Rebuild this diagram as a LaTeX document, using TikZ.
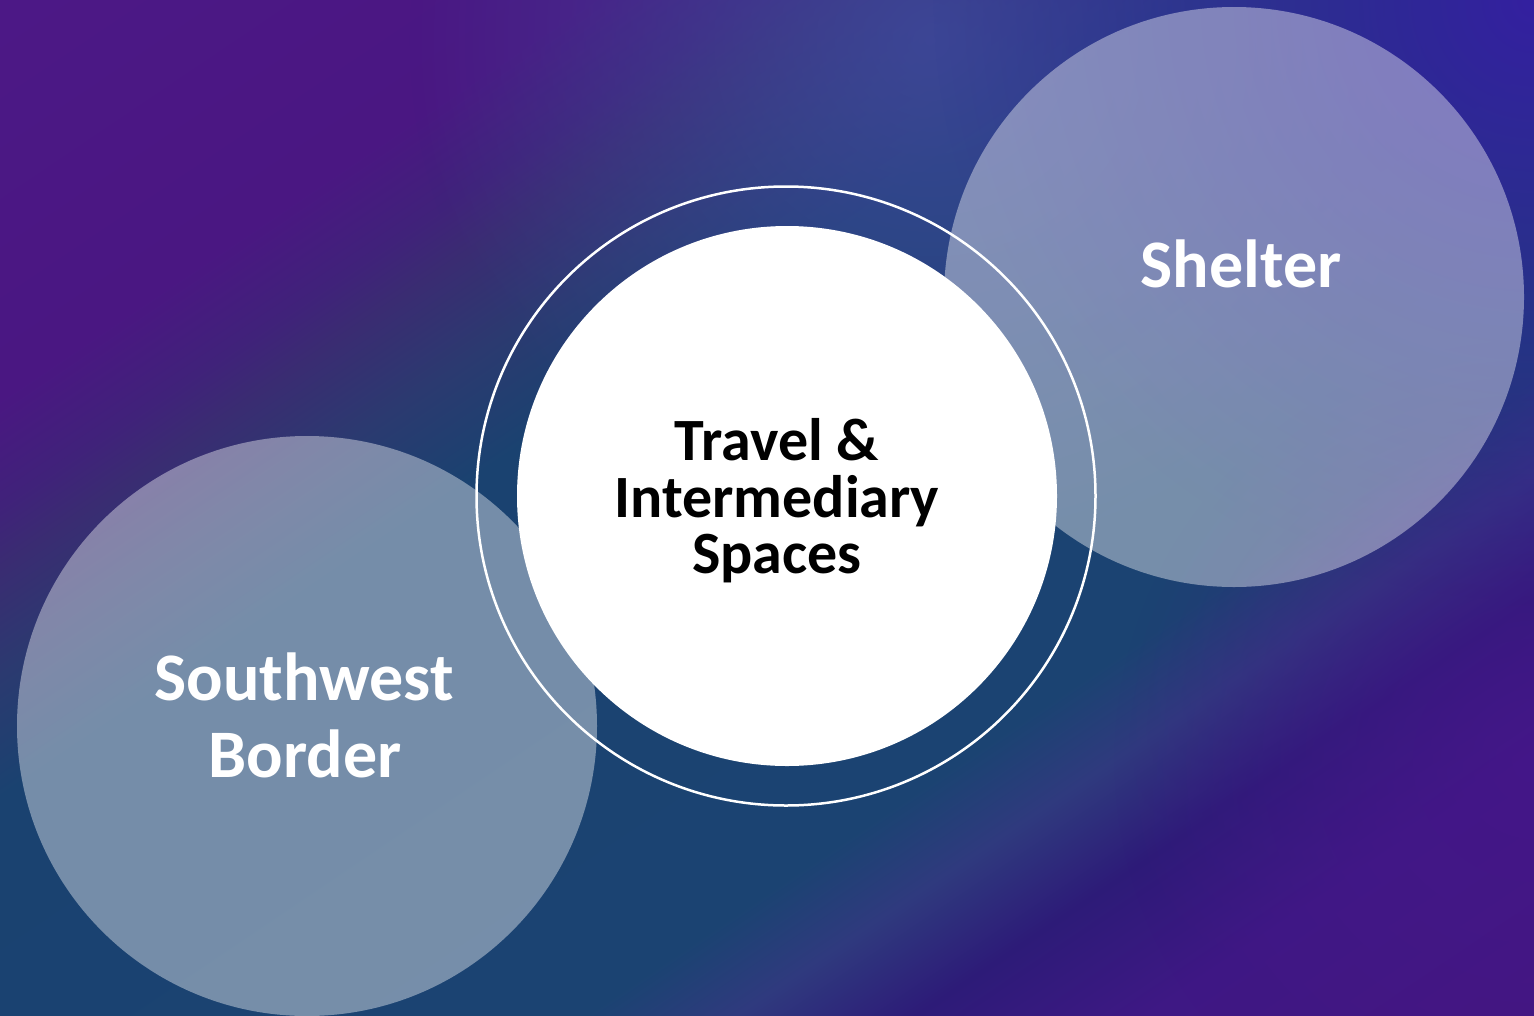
\documentclass[tikz,border=0pt]{standalone}
\usepackage{fontspec}
\setmainfont{Carlito}
\usetikzlibrary{fadings}
\definecolor{c0}{HTML}{4C1886}
\definecolor{c1}{HTML}{4A1782}
\definecolor{c2}{HTML}{40227A}
\definecolor{c3}{HTML}{3A2C72}
\definecolor{c4}{HTML}{2B3A70}
\definecolor{c5}{HTML}{1A4270}
\definecolor{c6}{HTML}{1B4372}
\definecolor{c7}{HTML}{2F3A7E}
\definecolor{c8}{HTML}{2D1B78}
\definecolor{c9}{HTML}{3E1884}
\definecolor{c10}{HTML}{44177F}
\definecolor{trviolet}{HTML}{3420A0}
\definecolor{topblue}{HTML}{3F489C}
\definecolor{rpurple}{HTML}{46168A}
\pgfdeclarehorizontalshading{bgshade}{2800bp}{color(0bp)=(c0); color(330bp)=(c1); color(420bp)=(c2); color(470bp)=(c3); color(560bp)=(c4); color(660bp)=(c5); color(1166bp)=(c6); color(1250bp)=(c7); color(1350bp)=(c8); color(1480bp)=(c9); color(1720bp)=(c10)}
\tikzfading[name=radfade, inner color=transparent!0, outer color=transparent!100]
\tikzset{
  glass/.style={circle, fill=white, fill opacity=0.4, draw=none, inner sep=0pt},
  whitetext/.style={text=white, font=\bfseries\fontsize{68}{77}\selectfont, inner sep=0pt, anchor=base},
  blacktext/.style={text=black, font=\bfseries\fontsize{60}{56}\selectfont, inner sep=0pt, anchor=base}
}
\begin{document}
\begin{tikzpicture}[x=1pt,y=-1pt]
\useasboundingbox (0,0) rectangle (1534,1015);
\begin{scope}
  \clip (0,0) rectangle (1534,1015);
  \node[rotate=-56, inner sep=0pt, outer sep=0pt] (bg) at (482,714) {\pgfuseshading{bgshade}};
  \fill[topblue, fill opacity=0.85, path fading=radfade] (930,40) circle (520);
  \fill[trviolet, path fading=radfade] (1534,0) circle (600);
  \fill[rpurple, fill opacity=0.7, path fading=radfade] (1534,760) circle (420);
\end{scope}
% outer ring
\node[circle, draw=white, line width=2.5pt, minimum size=619, inner sep=0pt] (ring) at (786,496) {};
% white disk
\node[circle, fill=white, minimum size=540, inner sep=0pt] (core) at (787,496) {};
% translucent circles
\node[glass, minimum size=580] (sw) at (307,726) {};
\node[glass, minimum size=580] (sh) at (1234,297) {};
% labels
\node[whitetext] (shl) at (1241,287) {Shelter};
\node[whitetext] (sw1) at (304,700) {Southwest};
\node[whitetext] (sw2) at (305,777) {Border};
\node[blacktext] (t1) at (777,460) {Travel \&};
\node[blacktext] (t2) at (777,517) {Intermediary};
\node[blacktext] (t3) at (777,573) {Spaces};
\end{tikzpicture}
\end{document}
